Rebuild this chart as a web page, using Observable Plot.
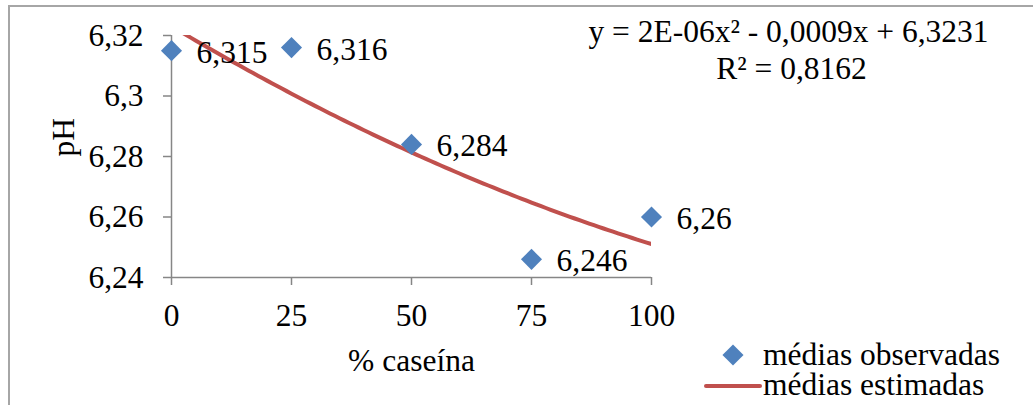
<!DOCTYPE html>
<html>
<head>
<meta charset="utf-8">
<script src="https://cdn.jsdelivr.net/npm/d3@7"></script>
<script src="https://cdn.jsdelivr.net/npm/@observablehq/plot@0.6"></script>
<style>
  html, body { margin: 0; padding: 0; background: #fff; }
  #wrap { position: relative; width: 1033px; height: 405px; overflow: hidden; font-family: "Liberation Serif", "Times New Roman", serif; }
  #border { position: absolute; left: 8px; top: 5px; width: 1040px; height: 420px; border-top: 2px solid #a6a6a6; border-left: 2px solid #a6a6a6; box-sizing: border-box; pointer-events: none; }
  #legend { position: absolute; left: 0; top: 0; width: 1033px; height: 405px; pointer-events: none; }
</style>
</head>
<body>
<div id="wrap"></div>
<script>
// ---- data ----
const casein = [0, 25, 50, 75, 100];
const pHObserved = [6.315, 6.316, 6.284, 6.246, 6.26];
const pHLabels = ["6,315", "6,316", "6,284", "6,246", "6,26"];
const xTicks = [0, 25, 50, 75, 100];
const yTicks = [6.24, 6.26, 6.28, 6.30, 6.32];
const yTickLabels = ["6,24", "6,26", "6,28", "6,3", "6,32"];
const xTitle = "% caseína";
const yTitle = "pH";
const equationLines = ["y = 2E-06x² - 0,0009x + 6,3231", "R² = 0,8162"];
const seriesNames = ["médias observadas", "médias estimadas"];

const blue = "#4f81bd";
const red = "#c0504d";
const axisGray = "#868686";
const font = "'Liberation Serif', 'Times New Roman', serif";
const fs = 31.5;

// quadratic least-squares trendline (as the spreadsheet computes it)
function quadFit(xs, ys) {
  const S = [0, 0, 0, 0, 0], T = [0, 0, 0];
  xs.forEach((x, i) => {
    for (let k = 0; k < 5; k++) S[k] += Math.pow(x, k);
    for (let k = 0; k < 3; k++) T[k] += Math.pow(x, k) * ys[i];
  });
  const A = [[S[0], S[1], S[2], T[0]], [S[1], S[2], S[3], T[1]], [S[2], S[3], S[4], T[2]]];
  for (let c = 0; c < 3; c++) {
    for (let r = c + 1; r < 3; r++) {
      const f = A[r][c] / A[c][c];
      for (let k = c; k < 4; k++) A[r][k] -= f * A[c][k];
    }
  }
  const sol = [0, 0, 0];
  for (let r = 2; r >= 0; r--) {
    let s = A[r][3];
    for (let k = r + 1; k < 3; k++) s -= A[r][k] * sol[k];
    sol[r] = s / A[r][r];
  }
  return sol;
}
const coef = quadFit(casein, pHObserved);
const trendX = d3.range(0, 100.5, 1);
const trend = trendX.map(x => ({x, y: coef[0] + coef[1] * x + coef[2] * x * x}));

const points = casein.map((x, i) => ({x, y: pHObserved[i], label: pHLabels[i]}));

const chart = Plot.plot({
  width: 1033,
  height: 405,
  marginLeft: 171,
  marginRight: 382,
  marginTop: 35,
  marginBottom: 128,
  style: {fontFamily: font, fontSize: fs + "px", color: "#000", background: "transparent"},
  x: {domain: [0, 100]},
  y: {domain: [6.24, 6.32]},
  marks: [
    Plot.ruleX([0], {stroke: axisGray, strokeWidth: 1.5}),
    Plot.ruleY([6.24], {stroke: axisGray, strokeWidth: 1.5, x1: 0, x2: 100}),
    Plot.axisY({
      ticks: yTicks,
      tickFormat: d => yTickLabels[yTicks.indexOf(d)],
      tickSize: 8,
      tickPadding: 20,
      stroke: axisGray,
      strokeWidth: 1.5,
      fill: "#000",
      fontSize: fs,
      fontFamily: font,
      label: null
    }),
    Plot.axisX({
      ticks: xTicks,
      tickFormat: d => String(d),
      tickSize: 8,
      tickPadding: 18,
      stroke: axisGray,
      strokeWidth: 1.5,
      fill: "#000",
      fontSize: fs,
      fontFamily: font,
      label: null
    }),
    Plot.text([xTitle], {frameAnchor: "bottom", dy: 83, lineAnchor: "middle", fontSize: fs, fontFamily: font, fill: "#000"}),
    Plot.text([yTitle], {frameAnchor: "left", dx: -108, rotate: -90, lineAnchor: "middle", fontSize: fs, fontFamily: font, fill: "#000"}),
    Plot.line(trend, {x: "x", y: "y", stroke: red, strokeWidth: 4, clip: true}),
    Plot.dot(points, {x: "x", y: "y", symbol: "diamond2", r: 9.5, fill: blue, stroke: "none"}),
    Plot.text(points, {x: "x", y: "y", text: "label", dx: 25, dy: 2, textAnchor: "start", fontSize: fs, fontFamily: font, fill: "#000"}),
    Plot.text([equationLines[0]], {frameAnchor: "top-left", dx: 617, dy: -4, textAnchor: "middle", lineAnchor: "middle", fontSize: fs, fontFamily: font, fill: "#000"}),
    Plot.text([equationLines[1]], {frameAnchor: "top-left", dx: 620, dy: 33, textAnchor: "middle", lineAnchor: "middle", fontSize: fs, fontFamily: font, fill: "#000"})
  ]
});
chart.style.position = "absolute";
chart.style.left = "0px";
chart.style.top = "0px";
chart.style.overflow = "visible";

const wrap = document.getElementById("wrap");
wrap.appendChild(chart);

// legend
const ns = "http://www.w3.org/2000/svg";
const leg = document.createElementNS(ns, "svg");
leg.setAttribute("id", "legend");
leg.setAttribute("width", 1033);
leg.setAttribute("height", 405);
const dia = document.createElementNS(ns, "path");
dia.setAttribute("d", d3.symbol(d3.symbolDiamond2, Math.PI * 9.5 * 9.5)());
dia.setAttribute("transform", "translate(733,355)");
dia.setAttribute("fill", blue);
leg.appendChild(dia);
const ln = document.createElementNS(ns, "line");
ln.setAttribute("x1", 706); ln.setAttribute("x2", 760);
ln.setAttribute("y1", 386); ln.setAttribute("y2", 386);
ln.setAttribute("stroke", red); ln.setAttribute("stroke-width", 4);
ln.setAttribute("stroke-linecap", "round");
leg.appendChild(ln);
seriesNames.forEach((name, i) => {
  const t = document.createElementNS(ns, "text");
  t.setAttribute("x", 763);
  t.setAttribute("y", [355, 385][i]);
  t.setAttribute("dy", "0.32em");
  t.setAttribute("font-family", font);
  t.setAttribute("font-size", fs);
  t.setAttribute("fill", "#000");
  t.textContent = name;
  leg.appendChild(t);
});
wrap.appendChild(leg);

const border = document.createElement("div");
border.id = "border";
wrap.appendChild(border);
</script>
</body>
</html>
